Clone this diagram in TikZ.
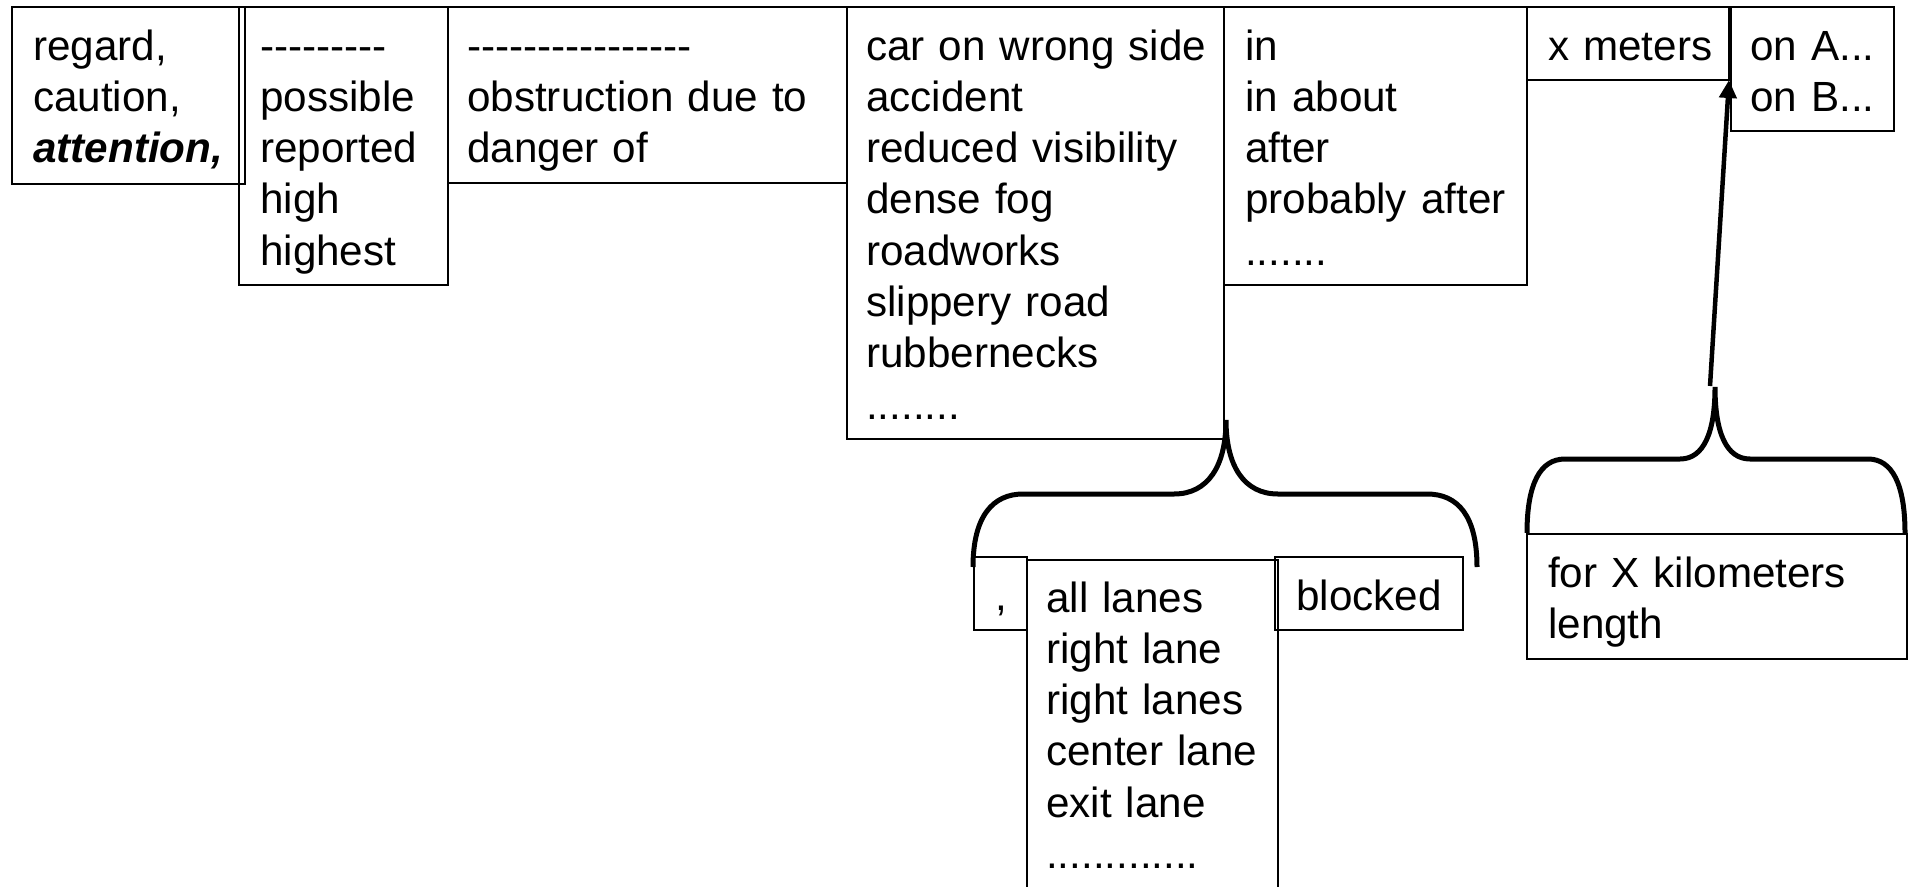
\documentclass[tikz,border=0pt]{standalone}
\usepackage{fontspec}
\setmainfont{Liberation Sans}
\usetikzlibrary{arrows.meta,calc}
\newcommand\hh{-\kern0pt}
\begin{document}
\begin{tikzpicture}[x=1pt,y=-1pt,
  box/.style={draw,line width=2.4pt,inner sep=0pt,anchor=north west},
  txt/.style={anchor=base west,inner sep=0pt,text width=420pt,align=left,font=\fontsize{42.2}{51.3}\selectfont},
  brace/.style={line width=5pt},
  arr/.style={line width=4.5pt,-{Triangle[length=18pt,width=17pt]}}]
\useasboundingbox (0,0) rectangle (1908,886);
% boxes
\node[box,minimum width=233pt,minimum height=177pt] (b1) at (11,6) {};
\node[box,minimum width=209pt,minimum height=278pt] (b2) at (238,6) {};
\node[box,minimum width=399pt,minimum height=176pt] (b3) at (447,6) {};
\node[box,minimum width=377pt,minimum height=432pt] (b4) at (846,6) {};
\node[box,minimum width=303pt,minimum height=278pt] (b5) at (1223,6) {};
\node[box,minimum width=202pt,minimum height=73pt] (b6) at (1526,6) {};
\node[box,minimum width=163pt,minimum height=124pt] (b7) at (1730,6) {};
\node[box,minimum width=53pt,minimum height=73pt] (cm) at (973,556) {};
\node[box,minimum width=251pt,minimum height=360pt] (ln) at (1026,559) {};
\node[box,minimum width=188pt,minimum height=73pt] (bl) at (1274,556) {};
\node[box,minimum width=380pt,minimum height=125pt] (lg) at (1526,533) {};
% texts
\node[txt] (t1) at ($(b1.north west)+(22,54)$) {regard,\\caution,\\\textbf{\textit{attention,}}};
\node[txt] (t2) at ($(b2.north west)+(22,54)$) {\hh\hh\hh\hh\hh\hh\hh\hh\hh\\possible\\reported\\high\\highest};
\node[txt] (t3) at ($(b3.north west)+(20,54)$) {\hh\hh\hh\hh\hh\hh\hh\hh\hh\hh\hh\hh\hh\hh\hh\hh\\obstruction due to\\danger of};
\node[txt] (t4) at ($(b4.north west)+(20,54)$) {car on wrong side\\accident\\reduced visibility\\dense fog\\roadworks\\slippery road\\rubbernecks\\........};
\node[txt] (t5) at ($(b5.north west)+(22,54)$) {in\\in about\\after\\probably after\\.......};
\node[txt] (t6) at ($(b6.north west)+(22,54)$) {x meters};
\node[txt] (t7) at ($(b7.north west)+(20,54)$) {on A...\\on B...};
\node[txt] (tc) at ($(cm.north west)+(22,54)$) {,};
\node[txt] (tl) at ($(ln.north west)+(20,53)$) {all lanes\\right lane\\right lanes\\center lane\\exit lane\\.............};
\node[txt] (tb) at ($(bl.north west)+(22,54)$) {blocked};
\node[txt] (tg) at ($(lg.north west)+(22,54)$) {for X kilometers\\length};
% braces
\coordinate (tipA) at (1226,420);
\coordinate (tipB) at (1715,387);
\draw[brace] (973,567) .. controls (973,516) and (993,494) .. (1023,494) -- (1174,494)
  .. controls (1208,494) and (1226,466) .. (tipA)
  .. controls (1226,466) and (1244,494) .. (1278,494) -- (1427,494)
  .. controls (1458,494) and (1477,516) .. (1477,567);
\draw[brace] (1527,533) .. controls (1527,484) and (1540,459) .. (1565,459) -- (1680,459)
  .. controls (1704,459) and (1715,432) .. (tipB)
  .. controls (1715,432) and (1726,459) .. (1750,459) -- (1868,459)
  .. controls (1892,459) and (1905,484) .. (1905,533);
% arrow
\coordinate (a0) at (1710,386);
\coordinate (a1) at (1729,80);
\draw[arr] (a0) -- (a1);
\end{tikzpicture}
\end{document}
